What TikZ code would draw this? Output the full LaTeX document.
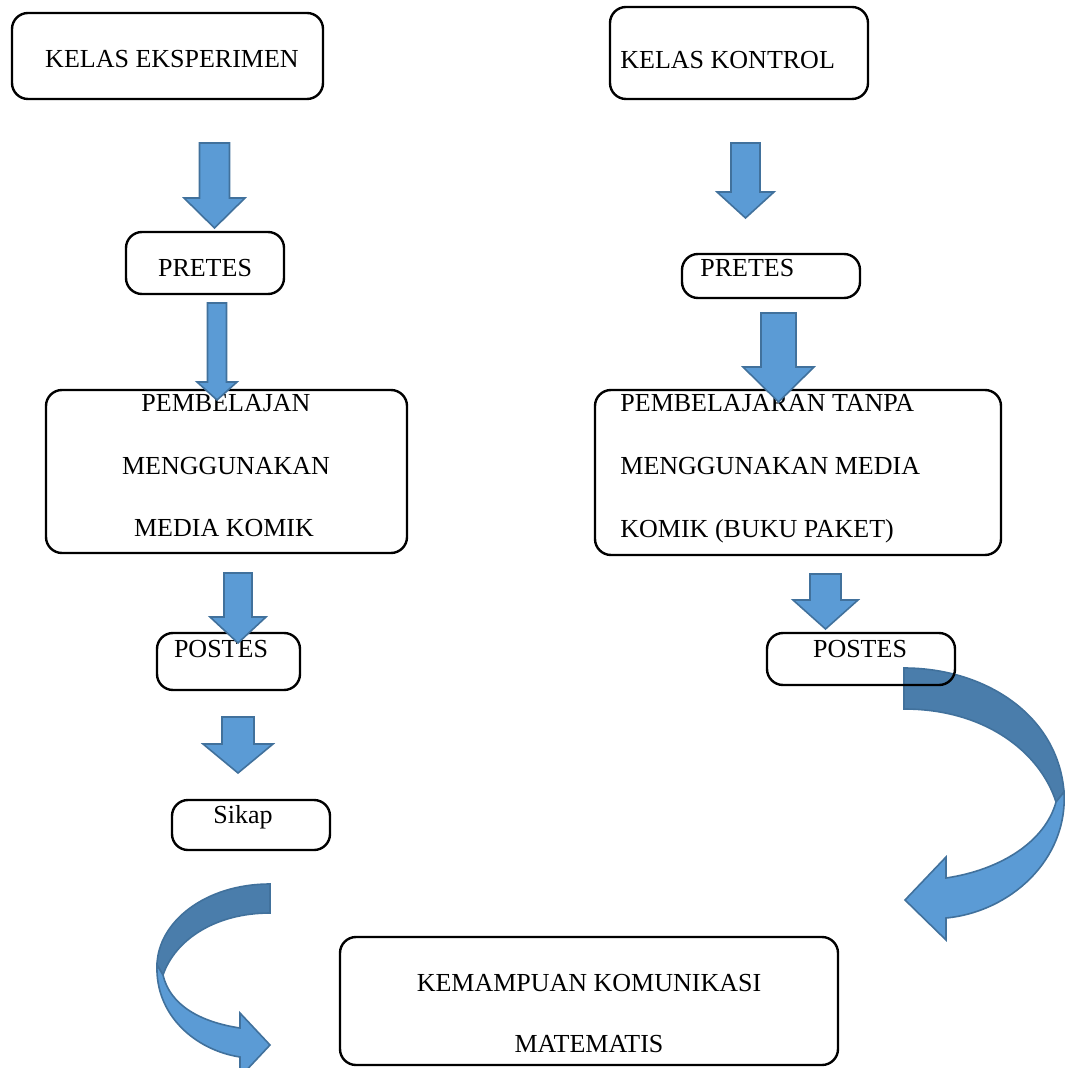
\documentclass[tikz,border=0pt]{standalone}
\usepackage{fontspec}
\setmainfont{Liberation Serif}
\usetikzlibrary{fit}
\definecolor{panahbiru}{HTML}{5B9BD5}
\definecolor{garisbiru}{HTML}{41719C}
\definecolor{lipatbiru}{HTML}{4A7DAB}
% block arrow pointing down: x, y top, head start, tip, shaft half width, head half width
\newcommand{\panahturun}[6]{%
  \filldraw[panah] (#1-#5,#2) -- (#1+#5,#2) -- (#1+#5,#3) -- (#1+#6,#3)
      -- (#1,#4) -- (#1-#6,#3) -- (#1-#5,#3) -- cycle;}
\begin{document}
\begin{tikzpicture}[x=0.5pt,y=-0.5pt]
    \tikzstyle{kotak}=[draw=black, line width=1.2pt, rounded corners=8pt, inner sep=0pt]
    \tikzstyle{teks}=[inner sep=0pt, anchor=base, font=\fontsize{13}{15}\selectfont]
    \tikzstyle{panah}=[fill=panahbiru, draw=garisbiru, line width=0.8pt]
    \tikzstyle{lipat}=[fill=lipatbiru, draw=garisbiru, line width=0.8pt]
    \useasboundingbox (0,0) rectangle (1064,1068);

    % curved arrows
    \filldraw[lipat] (904,668) .. controls (985,668) and (1058,715) .. (1064,792)
                     -- (1056,802) .. controls (1040,752) and (985,709) .. (904,709) -- cycle;
    \filldraw[panah] (1064,792) .. controls (1068,860) and (1010,912) .. (946,918)
                     -- (946,940) -- (905,900) -- (946,857) -- (946,878)
                     .. controls (1000,870) and (1045,842) .. (1056,802) -- cycle;
    \filldraw[lipat] (270,884) .. controls (205,884) and (158,922) .. (157,965)
                     -- (163,975) .. controls (175,940) and (215,913) .. (270,913) -- cycle;
    \filldraw[panah] (157,965) .. controls (155,1015) and (195,1050) .. (240,1057)
                     -- (240,1077) -- (270,1045) -- (240,1013) -- (240,1028)
                     .. controls (200,1022) and (170,1005) .. (163,975) -- cycle;

    % boxes
    \node[kotak, fit={(12,13) (323,99)}] (eks) {};
    \node[kotak, fit={(610,7) (868,99)}] (kon) {};
    \node[kotak, fit={(126,232) (284,294)}] (pre1) {};
    \node[kotak, fit={(682,254) (860,298)}] (pre2) {};
    \node[kotak, fit={(46,390) (407,553)}] (med1) {};
    \node[kotak, fit={(595,390) (1001,555)}] (med2) {};
    \node[kotak, fit={(157,633) (300,690)}] (pos1) {};
    \node[kotak, fit={(767,633) (955,685)}] (pos2) {};
    \node[kotak, fit={(172,800) (330,850)}] (sikap) {};
    \node[kotak, fit={(340,937) (838,1065)}] (kem) {};

    % texts
    \node[teks] (t_eks) at (172,68) {KELAS EKSPERIMEN};
    \node[teks, anchor=base west] (t_kon) at (620,69) {KELAS KONTROL};
    \node[teks] (t_pre1) at (205,277) {PRETES};
    \node[teks, anchor=base west] (t_pre2) at (700,277) {PRETES};
    \node[teks] (t_med1a) at (226,412) {PEMBELAJAN};
    \node[teks] (t_med1b) at (226,474) {MENGGUNAKAN};
    \node[teks] (t_med1c) at (224,536) {MEDIA KOMIK};
    \node[teks, anchor=base west] (t_med2a) at (620,412) {PEMBELAJARAN TANPA};
    \node[teks, anchor=base west] (t_med2b) at (620,474) {MENGGUNAKAN MEDIA};
    \node[teks, anchor=base west] (t_med2c) at (620,537) {KOMIK (BUKU PAKET)};
    \node[teks] (t_pos1) at (221,657) {POSTES};
    \node[teks] (t_pos2) at (860,657) {POSTES};
    \node[teks] (t_sikap) at (243,823) {Sikap};
    \node[teks] (t_kema) at (589,991) {KEMAMPUAN KOMUNIKASI};
    \node[teks] (t_kemb) at (589,1052) {MATEMATIS};

    % straight arrows
    \panahturun{214.5}{143}{198}{228}{15}{30.5}
    \panahturun{217}{303}{382}{400}{9.5}{20}
    \panahturun{238}{573}{617}{643}{14}{28}
    \panahturun{238}{717}{744}{773}{16}{35}
    \panahturun{745.5}{143}{192}{218}{14.5}{28.5}
    \panahturun{778.5}{313}{367}{402}{17.5}{35.5}
    \panahturun{825.5}{574}{600}{629}{15.5}{32.5}
\end{tikzpicture}
\end{document}
